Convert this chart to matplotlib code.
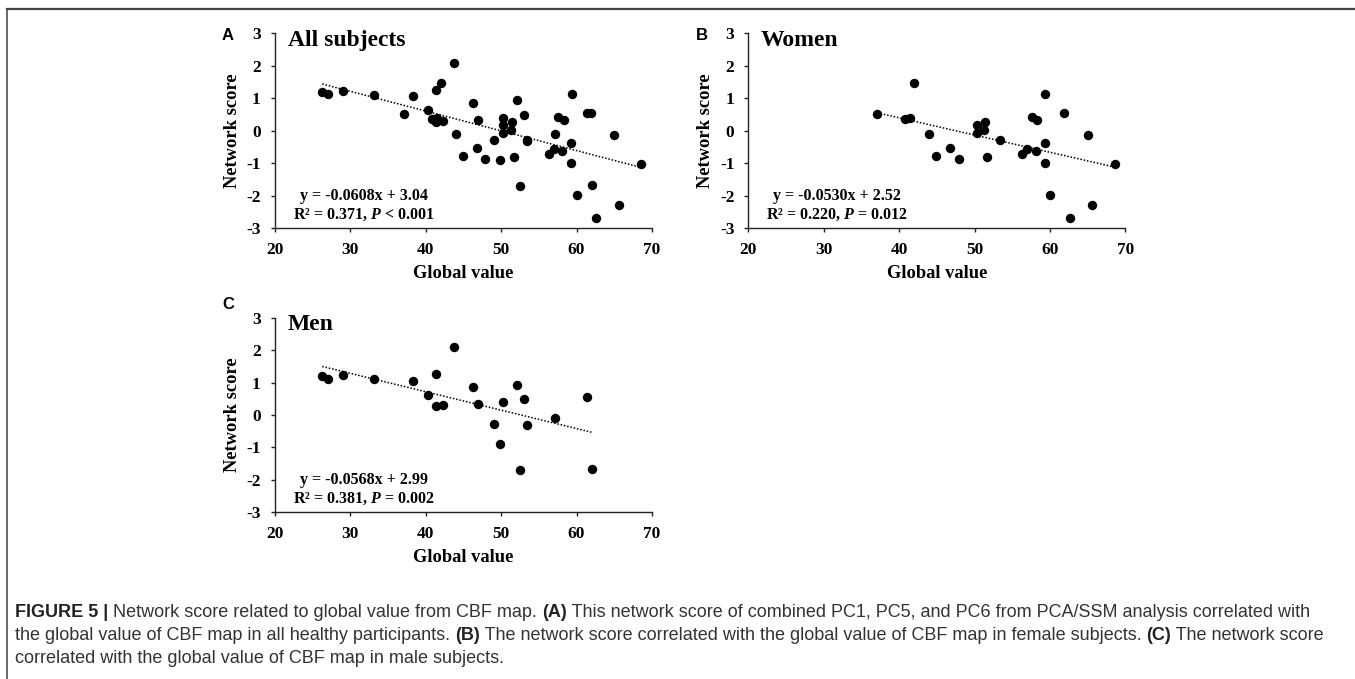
import numpy as np
import matplotlib
matplotlib.use("Agg")
import matplotlib.pyplot as plt
from matplotlib.lines import Line2D

plt.rcParams["axes.unicode_minus"] = False

# values
women_x = [37.1, 40.8, 41.5, 42.0, 44.0, 44.9, 46.8, 47.9, 50.3, 50.3, 51.3,
           51.4, 51.7, 53.4, 56.3, 57.0, 57.6, 58.1, 58.3, 59.3, 59.3, 59.4,
           60.0, 61.9, 62.6, 65.0, 65.6, 68.6]
women_y = [0.51, 0.35, 0.40, 1.48, -0.10, -0.76, -0.52, -0.87, 0.18, -0.06,
           0.04, 0.26, -0.80, -0.28, -0.71, -0.55, 0.43, -0.63, 0.32, -0.39,
           -0.99, 1.12, -1.97, 0.55, -2.69, -0.12, -2.27, -1.02]
men_x = [26.3, 27.0, 29.1, 33.2, 38.3, 40.3, 41.4, 41.4, 42.3, 43.8, 46.3,
         46.9, 49.0, 49.8, 50.3, 52.1, 52.5, 53.1, 53.4, 57.1, 61.4, 62.1]
men_y = [1.20, 1.12, 1.24, 1.10, 1.06, 0.63, 1.26, 0.28, 0.30, 2.10, 0.85,
         0.34, -0.29, -0.89, 0.40, 0.94, -1.69, 0.48, -0.30, -0.09, 0.54, -1.67]
all_x = women_x + men_x
all_y = women_y + men_y

titles = ["All subjects", "Women", "Men"]
letters = ["A", "B", "C"]
slopes = [-0.0608, -0.0530, -0.0568]
intercepts = [3.04, 2.52, 2.99]
eq_lines = [("y = -0.0608x + 3.04", "R² = 0.371, ", " < 0.001"),
            ("y = -0.0530x + 2.52", "R² = 0.220, ", " = 0.012"),
            ("y = -0.0568x + 2.99", "R² = 0.381, ", " = 0.002")]
xticks = [20, 30, 40, 50, 60, 70]
yticks = [-3, -2, -1, 0, 1, 2, 3]

W, H = 1355, 679
fig = plt.figure(figsize=(W / 100, H / 100), dpi=100)
serif = "Liberation Serif"
sans = "Liberation Sans"
plt.rcParams["mathtext.fontset"] = "custom"
plt.rcParams["mathtext.it"] = "Liberation Serif:italic:bold"
plt.rcParams["mathtext.rm"] = "Liberation Serif:bold"


def px(x0, y0, x1, y1):
    return [x0 / W, 1 - y1 / H, (x1 - x0) / W, (y1 - y0) / H]


boxes = [px(274.7, 33.3, 652, 228.3), px(748.3, 33.3, 1125.3, 228.3),
         px(274.7, 317.7, 652, 512.3)]
series = [(all_x, all_y), (women_x, women_y), (men_x, men_y)]
letter_pos = [(222, 40), (696, 40), (222, 309)]

for i, (box, (xs, ys)) in enumerate(zip(boxes, series)):
    ax = fig.add_axes(box)
    ax.scatter(xs, ys, s=46, color="black", zorder=3, linewidths=0)
    xl = np.array([min(xs), max(xs)])
    ax.plot(xl, slopes[i] * xl + intercepts[i], ls=(0, (1, 1.2)),
            color="black", lw=1.1)
    ax.set_xlim(20, 70)
    ax.set_ylim(-3, 3)
    ax.set_xticks(xticks)
    ax.set_yticks(yticks)
    for s in ["top", "right"]:
        ax.spines[s].set_visible(False)
    for s in ["left", "bottom"]:
        ax.spines[s].set_color("#222222")
        ax.spines[s].set_linewidth(1.0)
    ax.tick_params(direction="out", length=3, width=1, color="#222222",
                   labelsize=12.5, pad=7)
    ax.tick_params(axis="x", pad=7)
    for lab in ax.get_xticklabels() + ax.get_yticklabels():
        lab.set_fontfamily(serif)
        lab.set_fontweight("bold")
    ax.set_xlabel("Global value", fontfamily=serif, fontweight="bold",
                  fontsize=13.3, labelpad=5)
    ax.set_ylabel("Network score", fontfamily=serif, fontweight="bold",
                  fontsize=13.3, labelpad=4)
    ax.text(21.7, 2.62, titles[i], fontfamily=serif, fontweight="bold",
            fontsize=17, va="baseline")
    e = eq_lines[i]
    ax.text(31.8, -2.14, e[0], fontfamily=serif, fontweight="bold",
            fontsize=11.5, ha="center", va="baseline")
    ax.text(31.8, -2.70, e[1] + "$\\mathit{P}$" + e[2],
            fontfamily=serif, fontweight="bold", fontsize=11.5,
            ha="center", va="baseline")
    lx, ly = letter_pos[i]
    fig.text(lx / W, 1 - ly / H, letters[i], fontfamily=sans,
             fontweight="bold", fontsize=12, va="baseline")

# frame
fig.add_artist(Line2D([7.5 / W, 1], [1 - 8.7 / H, 1 - 8.7 / H],
                      transform=fig.transFigure, color="#444444", lw=1.6))
fig.add_artist(Line2D([7.5 / W, 7.5 / W], [0, 1 - 8.7 / H],
                      transform=fig.transFigure, color="#444444", lw=1.1))

# caption
cap = [
    [("FIGURE 5 | ", True), ("Network score related to global value from CBF map. ", False),
     ("(A)", True), (" This network score of combined PC1, PC5, and PC6 from PCA/SSM analysis correlated with", False)],
    [("the global value of CBF map in all healthy participants. ", False), ("(B)", True),
     (" The network score correlated with the global value of CBF map in female subjects. ", False),
     ("(C)", True), (" The network score", False)],
    [("correlated with the global value of CBF map in male subjects.", False)],
]
renderer = fig.canvas.get_renderer()
for k, line in enumerate(cap):
    x = 15
    y = 617 + k * 23
    for txt, bold in line:
        t = fig.text(x / W, 1 - y / H, txt, fontfamily=sans, fontsize=13.0,
                     color="#333333" if not bold else "#222222",
                     fontweight="bold" if bold else "normal",
                     va="baseline")
        bb = t.get_window_extent(renderer)
        x += bb.width

fig.savefig("out.png", dpi=100)
